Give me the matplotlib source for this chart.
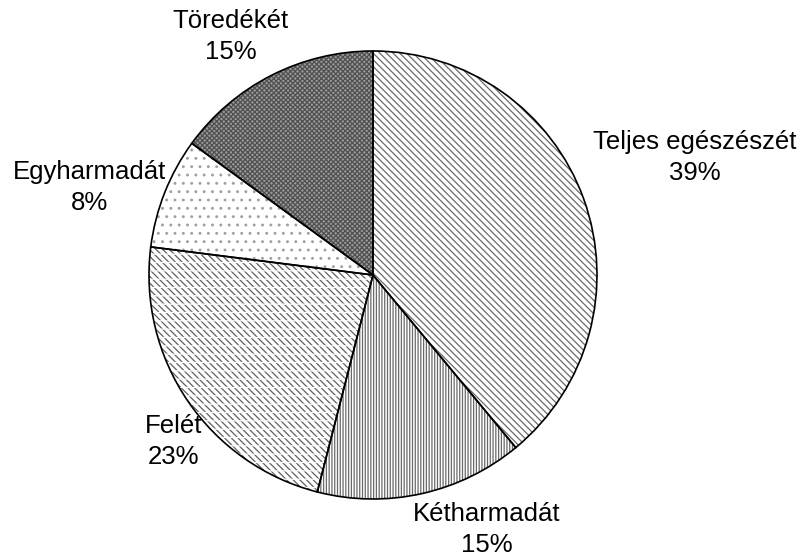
import matplotlib
matplotlib.use("Agg")
import matplotlib.pyplot as plt

labels = ["Teljes egészészét", "Kétharmadát", "Felét", "Egyharmadát", "Töredékét"]
values = [39, 15, 23, 8, 15]

# layout (not data): label block centres in axes data units
label_pos = [(1.436, 0.525), (0.509, -1.135), (-0.891, -0.745), (-1.267, 0.390), (-0.636, 1.065)]
hatches = ["\\\\\\\\\\", "||||||", "\\\\\\\\\\", "..", "xxxxxxx"]
faces = ["white", "white", "white", "white", "#9a9a9a"]
hatch_cols = ["#6a6a6a", "#6a6a6a", "#606060", "#a0a0a0", "#505050"]

plt.rcParams["font.family"] = ["Liberation Sans", "DejaVu Sans"]
plt.rcParams["hatch.linewidth"] = 0.9

W, H = 803, 559
fig = plt.figure(figsize=(W / 100, H / 100), dpi=100)
ax = fig.add_axes([0, 0, 1, 1])
R = 224.0
cx, cy = 373.0, 275.0

wedges, _ = ax.pie(values, startangle=90, counterclock=False, radius=1.0,
                   colors=faces)
for w, h, hc in zip(wedges, hatches, hatch_cols):
    w.set_hatch(h)
    w.set_edgecolor(hc)
    w.set_linewidth(0)

# white horizontal gaps over the "Felét" slice to form dashed rows
over, _ = ax.pie(values, startangle=90, counterclock=False, radius=1.0,
                 colors=["none"] * len(values))
for i, w in enumerate(over):
    if i == 2:
        w.set_hatch("--")
        w.set_edgecolor("white")
        w.set_linewidth(0)
    else:
        w.set_visible(False)

outline, _ = ax.pie(values, startangle=90, counterclock=False, radius=1.0,
                    colors=["none"] * len(values),
                    wedgeprops=dict(edgecolor="black", linewidth=1.2))

ax.set_xlim(-cx / R, (W - cx) / R)
ax.set_ylim(-(H - cy) / R, cy / R)
ax.set_aspect("equal", adjustable="datalim")
ax.axis("off")

for lab, v, (x, y) in zip(labels, values, label_pos):
    ax.text(x, y, f"{lab}\n{v}%", ha="center", va="center", fontsize=18.5,
            linespacing=1.38, color="black")

fig.savefig("out.png", dpi=100)
